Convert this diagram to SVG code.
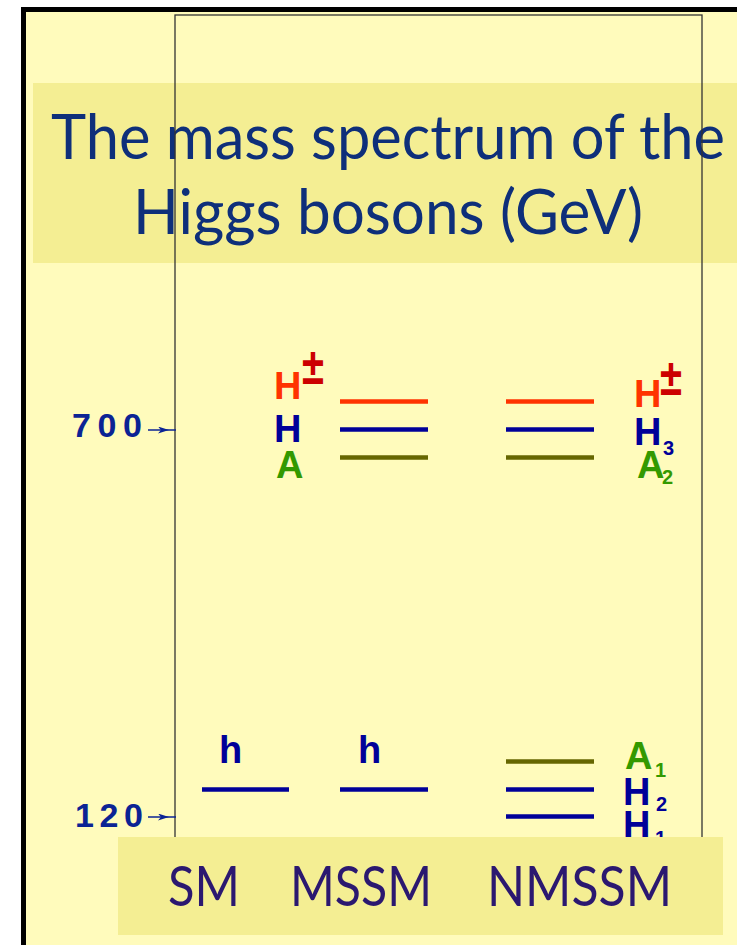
<svg xmlns="http://www.w3.org/2000/svg" width="737" height="945" viewBox="0 0 737 945">
  <style>
    .title { font-family: Lato, "Open Sans", "Liberation Sans", sans-serif; font-size: 62px; fill: #0E2F7A; }
    .model { font-family: Lato, "Open Sans", "Liberation Sans", sans-serif; font-size: 57px; fill: #2B1870; }
    .lbl { font-family: "Liberation Sans", Arial, sans-serif; font-weight: bold; font-size: 38px; }
    .sub { font-family: "Liberation Sans", Arial, sans-serif; font-weight: bold; font-size: 20px; }
    .pm { font-family: "Liberation Sans", Arial, sans-serif; font-weight: bold; font-size: 40px; fill: #CC0000; }
    .axis { font-family: "Liberation Sans", Arial, sans-serif; font-weight: bold; font-size: 34px; fill: #0B2394; }
    .red { fill: #FF3300; }
    .blue { fill: #000099; }
    .green { fill: #339900; }
    .lv { stroke-width: 4.5; fill: none; }
    .lv-red { stroke: #FF3300; }
    .lv-blue { stroke: #000099; }
    .lv-olive { stroke: #666600; }
    .conn { stroke: #0B2394; stroke-width: 1.5; fill: none; marker-mid: url(#head); }
  </style>
  <defs>
    <marker id="head" markerUnits="userSpaceOnUse" markerWidth="12" markerHeight="8" refX="11" refY="3.5" orient="auto">
      <path d="M0,0 L11,3.5 L0,7 L3,3.5 z" fill="#0B2394"/>
    </marker>
  </defs>

  <!-- page -->
  <rect x="0" y="0" width="737" height="945" fill="#FFFFFF"/>
  <rect x="23.5" y="9.5" width="800" height="1000" fill="#FFFBBC" stroke="#000000" stroke-width="5"/>

  <!-- title -->
  <g id="title">
    <rect x="33" y="83" width="710" height="180" fill="#F4EE93"/>
    <text class="title" x="51" y="159" textLength="674" lengthAdjust="spacingAndGlyphs">The mass spectrum of the</text>
    <text class="title" x="133" y="234" textLength="510" lengthAdjust="spacingAndGlyphs">Higgs bosons (GeV)</text>
  </g>

  <!-- frame -->
  <g id="frame">
    <rect x="175" y="15" width="527" height="900" fill="none" stroke="#333333" stroke-width="1.3"/>
  </g>

  <!-- axis labels -->
  <g id="axis-700">
    <text class="axis" x="72" y="437" textLength="70" lengthAdjust="spacing">700</text>
  </g>
  <g id="axis-120">
    <text class="axis" x="75" y="827" textLength="68" lengthAdjust="spacing">120</text>
  </g>

  <!-- connectors -->
  <g id="connectors">
    <path class="conn" d="M148,430 H169 H176"/>
    <path class="conn" d="M148,817 H169 H176"/>
  </g>

  <!-- SM -->
  <g id="sm">
    <path class="lv lv-blue" d="M202,789.5 H289"/>
    <text class="lbl blue" x="219" y="763">h</text>
  </g>

  <!-- MSSM -->
  <g id="mssm">
    <path class="lv lv-red" d="M340,401.5 H428"/>
    <path class="lv lv-blue" d="M340,429.5 H428"/>
    <path class="lv lv-olive" d="M340,457.5 H428"/>
    <path class="lv lv-blue" d="M340,789.5 H428"/>
    <text class="lbl red" x="274" y="399">H</text>
    <text class="pm" transform="translate(302,384) scale(1,1.3)">±</text>
    <text class="lbl blue" x="274" y="442">H</text>
    <text class="lbl green" x="276" y="478">A</text>
    <text class="lbl blue" x="358" y="763">h</text>
  </g>

  <!-- NMSSM -->
  <g id="nmssm">
    <path class="lv lv-red" d="M506,401.5 H594"/>
    <path class="lv lv-blue" d="M506,429.5 H594"/>
    <path class="lv lv-olive" d="M506,457.5 H594"/>
    <path class="lv lv-olive" d="M506,761.5 H594"/>
    <path class="lv lv-blue" d="M506,789.5 H594"/>
    <path class="lv lv-blue" d="M506,816.5 H594"/>
    <text class="lbl red" x="634" y="407">H</text>
    <text class="pm" transform="translate(660,395) scale(1,1.3)">±</text>
    <text class="lbl blue" x="634" y="445">H<tspan class="sub" x="663" y="455">3</tspan></text>
    <text class="lbl green" x="637" y="478">A<tspan class="sub" x="662" y="484">2</tspan></text>
    <text class="lbl green" x="625" y="769">A<tspan class="sub" x="655" y="777">1</tspan></text>
    <text class="lbl blue" x="623" y="805">H<tspan class="sub" x="656" y="811">2</tspan></text>
    <text class="lbl blue" x="623" y="838">H<tspan class="sub" x="655" y="845">1</tspan></text>
  </g>

  <!-- model names -->
  <g id="models">
    <rect x="118" y="837" width="605" height="98" fill="#F4EE93"/>
    <text class="model" x="168" y="906" textLength="72" lengthAdjust="spacingAndGlyphs">SM</text>
    <text class="model" x="290" y="906" textLength="142" lengthAdjust="spacingAndGlyphs">MSSM</text>
    <text class="model" x="487" y="906" textLength="185" lengthAdjust="spacingAndGlyphs">NMSSM</text>
  </g>
</svg>
